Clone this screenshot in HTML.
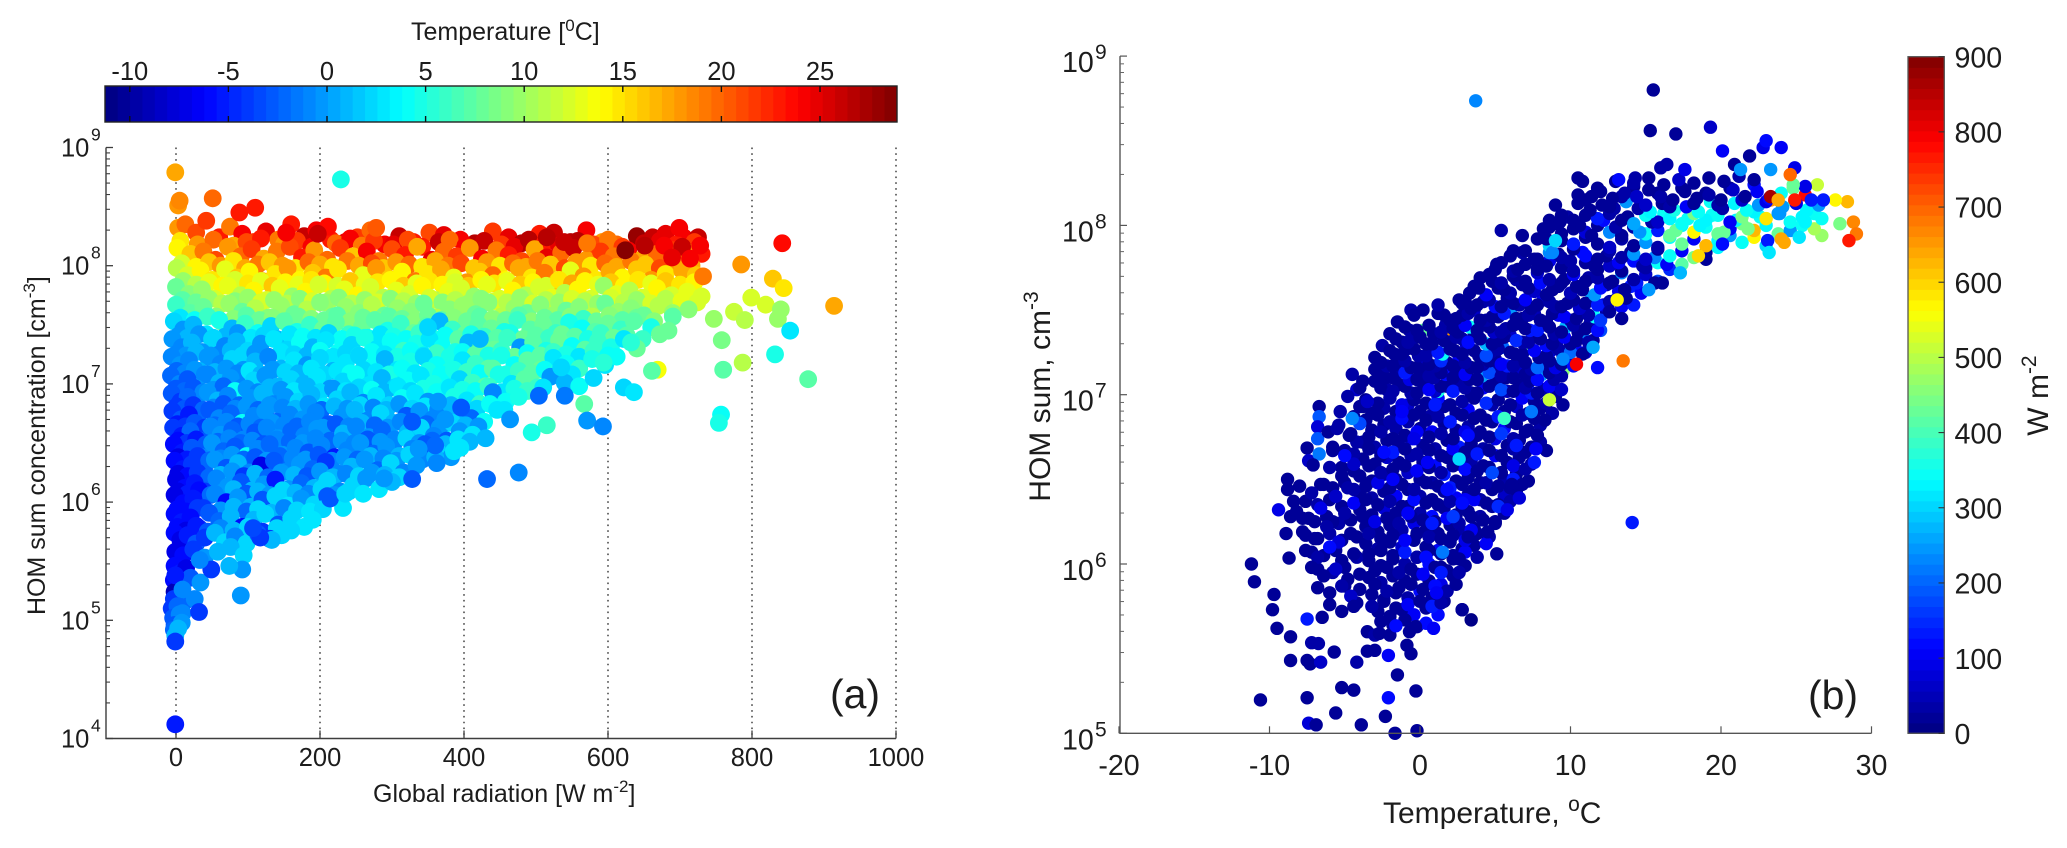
<!DOCTYPE html>
<html lang="en">
<head>
<meta charset="utf-8">
<title>HOM sum concentration vs global radiation and temperature</title>
<style>
html,body{margin:0;padding:0;background:#fff;width:2067px;height:848px;overflow:hidden}
svg{display:block}
text{font-family:"Liberation Sans",Arial,sans-serif;fill:#1c1c1c}
</style>
</head>
<body>
<svg id="figure" xmlns="http://www.w3.org/2000/svg" width="2067" height="848" viewBox="0 0 2067 848">
  <rect width="2067" height="848" fill="#fff"/>
  <g id="panelA"></g>
  <g id="panelB"></g>
  <text x="411" y="40" font-size="25">Temperature [<tspan font-size="17" dy="-9">0</tspan><tspan dy="9">C]</tspan></text>
  <text x="373" y="802" font-size="25">Global radiation [W m<tspan font-size="17" dy="-10">-2</tspan><tspan dy="10">]</tspan></text>
  <text transform="translate(45 615) rotate(-90)" font-size="25">HOM sum concentration [cm<tspan font-size="17" dy="-10">-3</tspan><tspan dy="10">]</tspan></text>
  <text x="855" y="708" font-size="41" text-anchor="middle">(a)</text>
  <text x="1383" y="823" font-size="30">Temperature, <tspan font-size="21" dy="-12">o</tspan><tspan dy="12">C</tspan></text>
  <text transform="translate(1050 501.7) rotate(-90)" font-size="30">HOM sum, cm<tspan font-size="21" dy="-12">-3</tspan></text>
  <text transform="translate(2048 435.7) rotate(-90)" font-size="30">W m<tspan font-size="21" dy="-12">-2</tspan></text>
  <text x="1833" y="709" font-size="41" text-anchor="middle">(b)</text>
</svg>
<script>
// ---------- Panel (a): tick labels ----------
const radiationTicksA = [0,200,400,600,800,1000];
const logHomTicksA = [4,5,6,7,8,9];
const temperatureTicksA = [-10,-5,0,5,10,15,20,25];
// ---------- Panel (a): bands of points: radiation, log10(HOM), temperature ----------
const radA01=[3,13,28,42,60,75,92,108,125,142,160,178,195,215,235,252,270,290,310,330,352,372,395,415,440,462,480,505,525,548,570,592,612,640,662,680,705,725];
const logA01=[8.32,8.35,8.28,8.38,8.24,8.33,8.27,8.20,8.29,8.22,8.35,8.25,8.30,8.22,8.20,8.24,8.30,8.18,8.25,8.20,8.28,8.26,8.22,8.19,8.29,8.24,8.19,8.27,8.28,8.20,8.30,8.20,8.18,8.25,8.24,8.27,8.24,8.24];
const tmpA01=[18,20,21,22,23,19,24,22,25,19,23,26,24,23,25,22,20,24,26,23,21,25,24,27,22,25,27,23,26,27,24,18,20,28,26,25,24,26];
const radA23=[6,30,52,80,98,118,150,168,188,222,242,258,275,302,322,342,365,380,402,428,452,470,490,512,532,558,580,600,620,650,672,695,720];
const logA23=[8.21,8.18,8.22,8.17,8.20,8.23,8.18,8.21,8.16,8.19,8.23,8.17,8.21,8.18,8.22,8.16,8.20,8.22,8.17,8.21,8.18,8.16,8.22,8.19,8.17,8.21,8.18,8.22,8.16,8.19,8.21,8.18,8.20];
const tmpA23=[15,18,20,17,21,23,18,22,24,20,24,19,22,25,21,23,26,20,24,26,22,25,27,23,25,27,21,19,22,26,25,23,22];
const radA02=[2,20,38,55,72,90,105,122,140,158,175,192,210,228,246,265,282,300,318,335,355,372,390,408,425,445,462,480,498,515,535,552,570,590,608,628,648,668,690,712,730];
const logA02=[8.15,8.10,8.12,8.05,8.16,8.08,8.14,8.06,8.12,8.16,8.07,8.13,8.05,8.15,8.08,8.12,8.04,8.14,8.09,8.16,8.05,8.12,8.08,8.15,8.06,8.13,8.09,8.04,8.14,8.07,8.11,8.15,8.05,8.12,8.08,8.13,8.06,8.10,8.13,8.11,8.10];
const tmpA02=[14,16,19,21,18,20,22,17,19,21,23,18,20,22,16,24,19,21,23,17,25,20,22,18,24,19,23,21,17,25,20,26,18,22,19,24,17,20,22,18,23];
const radA24=[8,28,46,62,80,96,114,130,148,166,184,200,218,238,254,272,288,306,324,342,360,378,396,414,432,450,468,486,502,520,540,556,576,596,612,632,652,672,695,716];
const logA24=[8.02,7.99,8.03,8.00,8.04,7.98,8.01,8.03,8.00,7.98,8.03,8.01,7.99,8.04,8.00,8.02,7.98,8.03,8.01,7.99,8.04,8.00,8.02,7.98,8.03,8.00,8.02,7.99,8.04,8.01,7.98,8.03,8.00,8.02,7.99,8.04,8.01,7.98,8.03,8.00];
const tmpA24=[12,14,16,18,15,17,19,16,18,15,20,17,15,19,17,21,16,18,20,15,17,19,21,16,18,15,20,17,19,16,21,18,15,20,17,19,16,21,18,17];
const radA03=[1,16,34,50,68,85,102,120,138,155,172,190,208,225,243,260,278,296,314,332,350,368,386,404,422,440,458,476,494,512,530,548,566,584,602,620,640,660,680,703,722];
const logA03=[7.98,7.92,7.96,7.88,7.97,7.90,7.95,7.87,7.93,7.98,7.88,7.94,7.90,7.97,7.86,7.92,7.98,7.89,7.95,7.87,7.93,7.97,7.90,7.86,7.95,7.92,7.88,7.98,7.90,7.94,7.87,7.96,7.91,7.88,7.95,7.90,7.97,7.88,7.93,7.96,7.92];
const tmpA03=[11,12,14,15,13,16,14,17,15,18,14,16,19,15,17,13,18,16,14,19,15,17,13,18,16,20,14,17,15,19,16,13,18,15,17,14,16,18,15,17,16];
const radA25=[10,28,46,64,82,100,118,134,152,170,188,206,224,242,262,280,298,316,334,352,370,388,406,424,442,460,478,496,514,532,550,568,586,604,622,642,660,680,700,720];
const logA25=[7.87,7.84,7.86,7.83,7.88,7.85,7.87,7.83,7.86,7.84,7.88,7.85,7.83,7.87,7.84,7.86,7.88,7.83,7.85,7.87,7.84,7.86,7.83,7.88,7.85,7.87,7.84,7.86,7.83,7.88,7.85,7.87,7.84,7.86,7.83,7.88,7.85,7.87,7.84,7.86];
const tmpA25=[10,11,13,14,12,15,13,16,14,13,15,14,12,16,13,15,14,16,13,15,14,12,16,14,15,13,16,14,12,15,17,14,13,16,14,15,13,16,15,14];
const radA04=[0,18,36,54,72,90,108,126,144,162,180,198,216,234,252,270,288,306,324,342,360,378,396,414,432,450,468,486,504,522,540,558,576,594,612,630,648,668,688,710,730];
const logA04=[7.82,7.76,7.80,7.72,7.83,7.75,7.79,7.71,7.81,7.74,7.78,7.84,7.72,7.80,7.75,7.82,7.73,7.79,7.76,7.83,7.71,7.78,7.81,7.74,7.84,7.72,7.79,7.75,7.82,7.73,7.77,7.80,7.72,7.83,7.76,7.79,7.73,7.81,7.75,7.78,7.74];
const tmpA04=[8,9,10,12,13,11,14,12,13,10,14,12,11,13,14,12,11,13,12,14,11,13,12,10,13,12,14,11,12,13,11,14,12,10,13,11,12,14,12,13,12];
const radA26=[9,28,46,64,82,100,118,136,154,172,190,208,226,244,262,280,298,316,334,352,370,388,406,424,442,460,478,496,514,532,550,568,586,604,622,640,660,680,702,724];
const logA26=[7.71,7.69,7.72,7.68,7.70,7.73,7.69,7.71,7.68,7.72,7.70,7.69,7.73,7.68,7.71,7.69,7.72,7.70,7.68,7.73,7.69,7.71,7.68,7.72,7.70,7.69,7.73,7.68,7.71,7.69,7.72,7.70,7.68,7.73,7.69,7.71,7.68,7.72,7.70,7.69];
const tmpA26=[7,8,10,11,9,10,12,10,11,9,12,10,9,11,10,12,9,11,10,12,9,11,10,9,12,11,10,12,11,10,12,11,10,12,11,10,12,11,13,12];
const radA05=[0,20,38,56,74,92,110,128,146,164,182,200,218,236,254,272,290,308,326,344,362,380,398,416,434,452,470,488,506,524,542,560,578,596,614,632,650,670,690,712];
const logA05=[7.67,7.60,7.65,7.57,7.68,7.61,7.64,7.56,7.66,7.59,7.63,7.69,7.57,7.65,7.60,7.67,7.58,7.64,7.61,7.68,7.56,7.63,7.66,7.59,7.69,7.57,7.64,7.60,7.67,7.58,7.62,7.65,7.57,7.68,7.61,7.64,7.58,7.66,7.60,7.63];
const tmpA05=[6,7,8,9,10,8,11,9,10,8,11,9,8,10,9,11,8,10,9,8,11,9,10,8,9,11,10,8,9,10,8,9,11,8,10,9,8,11,10,9];
const radA27=[6,26,44,62,80,98,116,134,152,170,188,206,224,242,260,278,296,314,332,350,368,386,404,422,440,458,476,494,512,530,548,566,584,602,620,640,664,690];
const logA27=[7.56,7.54,7.57,7.53,7.55,7.58,7.54,7.56,7.53,7.57,7.55,7.54,7.58,7.53,7.56,7.54,7.57,7.55,7.53,7.58,7.54,7.56,7.53,7.57,7.55,7.54,7.58,7.53,7.56,7.54,7.57,7.55,7.53,7.58,7.54,7.56,7.53,7.57];
const tmpA27=[3,4,6,7,9,7,8,9,7,8,9,8,7,9,8,9,7,8,9,8,7,9,8,7,9,8,7,9,8,7,9,6,8,9,7,8,9,7];
const radA06=[-3,10,24,42,60,78,96,114,132,150,168,186,204,222,240,258,276,294,312,330,348,366,384,402,420,438,456,474,492,510,528,546,564,582,600,618,636,660,684];
const logA06=[7.53,7.46,7.50,7.42,7.54,7.47,7.51,7.43,7.49,7.53,7.44,7.50,7.46,7.52,7.42,7.48,7.54,7.45,7.51,7.43,7.49,7.53,7.46,7.42,7.50,7.47,7.44,7.54,7.46,7.50,7.43,7.52,7.47,7.44,7.51,7.46,7.53,7.48,7.45];
const tmpA06=[2,0,1,3,5,1,6,4,2,7,5,6,8,7,6,8,7,5,6,8,7,1,6,8,7,8,5,6,7,8,6,5,4,7,8,6,7,5,8];
const radA28=[4,16,32,50,68,86,104,122,140,158,176,194,212,230,248,266,284,302,320,338,356,374,392,410,428,446,464,482,500,518,536,554,572,590,608,626,648,672];
const logA28=[7.41,7.39,7.42,7.38,7.40,7.43,7.39,7.41,7.38,7.42,7.40,7.39,7.43,7.38,7.41,7.39,7.42,7.40,7.38,7.43,7.39,7.41,7.38,7.42,7.40,7.39,7.43,7.38,7.41,7.39,7.42,7.40,7.38,7.43,7.39,7.41,7.38,7.42];
const tmpA28=[0,1,0,2,1,0,3,2,1,3,4,3,2,4,5,4,3,5,4,6,5,4,7,5,6,7,5,8,7,6,8,7,5,6,8,7,6,8];
const radA07=[-5,8,22,36,52,68,84,100,118,136,154,172,190,208,226,244,262,280,298,316,334,352,370,388,406,424,442,460,478,496,514,532,550,568,586,604,622,640];
const logA07=[7.38,7.31,7.35,7.27,7.39,7.32,7.36,7.28,7.34,7.38,7.29,7.35,7.31,7.37,7.27,7.33,7.39,7.30,7.36,7.28,7.34,7.38,7.31,7.27,7.35,7.32,7.29,7.39,7.31,7.35,7.28,7.37,7.32,7.29,7.36,7.31,7.38,7.30];
const tmpA07=[0,-1,1,0,2,-1,1,2,0,3,2,4,1,3,4,2,5,3,4,6,5,3,4,5,1,7,8,6,0,7,5,8,4,7,6,5,3,8];
const radA29=[2,14,28,44,60,76,92,110,128,146,164,182,200,218,236,254,272,290,308,326,344,362,380,398,416,434,452,470,488,506,524,542,560,580,600];
const logA29=[7.26,7.24,7.27,7.23,7.25,7.28,7.24,7.26,7.23,7.27,7.25,7.24,7.28,7.23,7.26,7.24,7.27,7.25,7.23,7.28,7.24,7.26,7.23,7.27,7.25,7.24,7.28,7.23,7.26,7.24,7.27,7.25,7.23,7.28,7.24];
const tmpA29=[-1,0,1,0,-1,1,2,0,1,3,2,1,4,3,2,5,4,3,5,4,3,6,5,4,7,5,6,8,4,7,6,5,3,6,4];
const radA08=[-6,6,18,32,48,62,78,94,110,128,146,164,182,200,218,236,254,272,290,308,326,344,362,380,398,416,434,452,470,488,506,524,542,560,578,596,612];
const logA08=[7.23,7.16,7.20,7.11,7.24,7.17,7.21,7.12,7.19,7.23,7.13,7.20,7.16,7.22,7.11,7.18,7.24,7.14,7.21,7.12,7.19,7.23,7.16,7.11,7.20,7.17,7.13,7.24,7.16,7.20,7.12,7.22,7.17,7.13,7.21,7.16,7.23];
const tmpA08=[-1,0,-1,1,0,-1,2,0,1,-1,1,3,0,2,1,3,2,4,1,3,5,2,4,5,3,6,7,5,4,7,8,3,4,6,5,3,4];
const radA30=[1,12,26,40,54,70,86,102,118,134,152,170,188,206,224,242,260,278,296,314,332,350,368,386,404,422,440,458,476,494,512,530,550];
const logA30=[7.11,7.09,7.12,7.08,7.10,7.13,7.09,7.11,7.08,7.12,7.10,7.09,7.13,7.08,7.11,7.09,7.12,7.10,7.08,7.13,7.09,7.11,7.08,7.12,7.10,7.09,7.13,7.08,7.11,7.09,7.12,7.10,7.08];
const tmpA30=[-2,-1,0,-1,1,0,-1,3,1,0,2,1,3,2,3,4,2,3,5,4,3,5,4,5,6,4,7,5,6,7,4,5,3];
const radA09=[-7,5,16,30,44,60,76,92,108,124,142,160,178,196,214,232,250,268,286,304,322,340,358,376,394,412,430,448,466,484,502,520,540,560,580];
const logA09=[7.07,7.00,7.04,6.96,7.08,7.01,7.05,6.97,7.03,7.07,6.98,7.04,7.00,7.06,6.96,7.02,7.08,6.99,7.05,6.97,7.03,7.07,7.00,6.96,7.04,7.01,6.98,7.08,7.00,7.04,6.97,7.06,7.01,6.98,7.05];
const tmpA09=[-2,-1,-3,0,-1,1,0,-1,2,0,1,2,1,3,0,2,4,3,1,2,4,3,5,4,2,6,7,5,3,7,6,0,1,4,2];
const radA31=[0,12,24,38,52,66,82,98,114,130,146,164,182,200,218,236,254,272,290,308,326,344,362,380,398,416,434,452,470,488,510];
const logA31=[6.96,6.94,6.97,6.93,6.95,6.98,6.94,6.96,6.93,6.97,6.95,6.94,6.98,6.93,6.96,6.94,6.97,6.95,6.93,6.98,6.94,6.96,6.93,6.97,6.95,6.94,6.98,6.93,6.96,6.94,6.97];
const tmpA31=[-3,-2,-3,-1,0,-2,4,0,-1,1,0,3,1,2,0,3,2,4,1,3,2,5,4,3,5,4,6,3,5,6,3];
const radA10=[-6,6,16,30,44,58,72,88,104,120,136,152,170,188,206,224,242,260,278,296,314,332,350,368,386,404,422,440,458,476];
const logA10=[6.92,6.85,6.89,6.81,6.93,6.86,6.90,6.82,6.88,6.92,6.83,6.89,6.85,6.91,6.81,6.87,6.93,6.84,6.90,6.82,6.88,6.92,6.85,6.81,6.89,6.86,6.83,6.93,6.85,6.89];
const tmpA10=[-3,-4,-2,-1,0,1,-1,-2,0,1,-1,0,2,1,3,2,1,-1,3,2,4,3,0,4,5,3,6,-1,4,5];
const radA32=[1,12,24,38,52,66,82,98,114,130,148,166,184,202,220,238,256,274,292,310,328,346,364,382,400,418,436,456];
const logA32=[6.81,6.79,6.82,6.78,6.80,6.83,6.79,6.81,6.78,6.82,6.80,6.79,6.83,6.78,6.81,6.79,6.82,6.80,6.78,6.83,6.79,6.81,6.78,6.82,6.80,6.79,6.83,6.78];
const tmpA32=[-4,-3,-4,-2,-1,-3,-1,0,-2,0,-1,1,0,-2,1,0,2,-1,1,0,2,3,-1,1,3,2,4,3];
const radA11=[-5,7,18,32,46,60,76,92,108,124,140,158,176,194,212,230,248,266,284,302,320,338,356,374,392,410,428,446,464];
const logA11=[6.77,6.70,6.74,6.66,6.78,6.71,6.75,6.67,6.73,6.77,6.68,6.74,6.70,6.76,6.66,6.72,6.78,6.69,6.75,6.67,6.73,6.77,6.70,6.66,6.74,6.71,6.68,6.78,6.70];
const tmpA11=[-4,-3,-5,-2,-3,-1,-2,4,-1,0,-2,-1,0,-1,-3,0,1,-1,2,1,-3,0,-1,3,1,-2,4,3,0];
const radA33=[2,13,26,40,54,70,86,102,118,134,150,168,186,204,222,240,258,276,294,312,330,348,366,384,402,420];
const logA33=[6.66,6.64,6.67,6.63,6.65,6.68,6.64,6.66,6.63,6.67,6.65,6.64,6.68,6.63,6.66,6.64,6.67,6.65,6.63,6.68,6.64,6.66,6.63,6.67,6.65,6.64];
const tmpA33=[-5,-4,-3,-4,-2,-1,-3,-1,-2,0,-1,-2,-1,0,-3,-1,1,-2,0,-1,1,-2,0,2,1,0];
const radA12=[-4,8,20,34,48,62,78,94,110,126,142,160,178,196,214,232,250,268,286,304,322,340,358,376,394,412,430];
const logA12=[6.63,6.56,6.60,6.52,6.64,6.57,6.61,6.53,6.59,6.63,6.54,6.60,6.56,6.62,6.52,6.58,6.64,6.55,6.61,6.53,6.59,6.63,6.56,6.52,6.60,6.57,6.54];
const tmpA12=[-4,-5,-2,-3,-1,0,-2,-1,-3,-1,0,-2,-1,0,-2,1,-1,0,-2,-1,1,2,-1,-3,0,3,1];
const radA34=[3,15,28,42,58,74,90,106,122,140,158,176,194,212,230,248,266,284,302,320,338,356,374,392,408];
const logA34=[6.52,6.50,6.53,6.49,6.51,6.54,6.50,6.52,6.49,6.53,6.51,6.50,6.54,6.49,6.52,6.50,6.53,6.51,6.49,6.54,6.50,6.52,6.49,6.53,6.51];
const tmpA34=[-6,-4,-5,-3,-2,-1,-2,-1,-3,-1,-2,0,-1,-2,0,-1,-3,0,-1,2,0,-2,1,3,1];
const radA13=[-3,9,22,36,50,66,82,98,114,130,148,166,184,202,220,238,256,274,292,310,328,346,364,382,395];
const logA13=[6.49,6.42,6.46,6.38,6.50,6.43,6.47,6.39,6.45,6.49,6.40,6.46,6.42,6.48,6.38,6.44,6.50,6.41,6.47,6.39,6.45,6.49,6.42,6.38,6.46];
const tmpA13=[-6,-5,-3,-1,0,-2,-3,4,-1,-2,0,-1,-3,-1,-5,-1,0,-2,0,1,-1,-3,2,0,3];
const radA35=[3,15,30,46,62,78,94,110,126,144,162,180,198,216,234,252,270,288,306,324,342,360];
const logA35=[6.38,6.36,6.39,6.35,6.37,6.40,6.36,6.38,6.35,6.39,6.37,6.36,6.40,6.35,6.38,6.36,6.39,6.37,6.35,6.40,6.36,6.38];
const tmpA35=[-7,-5,-4,-2,-1,0,-2,-3,0,-2,-1,0,-3,-1,0,-2,1,-1,0,2,-1,1];
const radA14=[-2,10,22,38,54,70,86,102,118,136,154,172,190,208,226,244,262,280,298,316,334];
const logA14=[6.35,6.28,6.32,6.24,6.36,6.29,6.33,6.25,6.31,6.35,6.26,6.32,6.28,6.34,6.24,6.30,6.36,6.27,6.33,6.25,6.31];
const tmpA14=[-6,-5,-4,-2,0,-3,1,-1,-7,-3,-1,0,-2,-4,-1,1,0,-2,2,-1,0];
const radA36=[3,16,30,46,62,78,94,110,128,146,164,182,200,218,236,254,272,290,310];
const logA36=[6.24,6.22,6.25,6.21,6.23,6.26,6.22,6.24,6.21,6.25,6.23,6.22,6.26,6.21,6.24,6.22,6.25,6.23,6.21];
const tmpA36=[-7,-6,-4,-2,1,0,-4,1,-2,0,1,-3,0,1,-1,2,0,1,2];
const radA15=[0,12,26,40,56,72,90,106,122,138,156,174,192,210,228,246,264,282,300];
const logA15=[6.19,6.12,6.16,6.09,6.20,6.13,6.17,6.10,6.15,6.19,6.11,6.16,6.12,6.18,6.09,6.14,6.20,6.11,6.17];
const tmpA15=[-7,-6,-5,-4,-1,0,-3,1,0,-5,0,-2,1,2,-1,2,0,3,1];
const radA37=[3,16,32,48,64,80,98,114,130,148,166,184,202,220,240,260];
const logA37=[6.09,6.07,6.10,6.06,6.08,6.11,6.07,6.09,6.06,6.10,6.08,6.07,6.11,6.06,6.09,6.07];
const tmpA37=[-7,-5,-6,-2,0,1,-3,1,0,2,1,-1,2,0,2,3];
const radA16=[-2,10,24,38,54,70,86,104,120,138,156,174,192,210,232];
const logA16=[6.06,5.99,6.03,5.95,6.07,6.00,6.04,5.96,6.02,6.05,5.97,6.03,5.98,6.05,5.95];
const tmpA16=[-7,-6,-5,-4,-1,-6,0,1,-3,2,3,0,2,-3,3];
const radA38=[2,14,30,46,62,80,98,114,132,150,168,186,204];
const logA38=[5.94,5.92,5.95,5.91,5.93,5.96,5.92,5.94,5.91,5.95,5.93,5.92,5.94];
const tmpA38=[-6,-6,-4,-3,0,1,-2,2,1,-1,2,3,2];
const radA17=[-2,8,20,32,46,60,76,92,108,124,142,160,178];
const logA17=[5.90,5.83,5.87,5.78,5.91,5.84,5.88,5.79,5.85,5.90,5.81,5.86,5.79];
const tmpA17=[-6,-5,-6,-4,-3,-2,1,-6,1,2,-3,2,3];
const radA39=[2,14,28,44,62,80,100,120,140,160];
const logA39=[5.79,5.76,5.80,5.75,5.78,5.76,5.79,5.75,5.78,5.76];
const tmpA39=[-6,-7,-5,-3,-1,1,2,-4,2,2];
const radA18=[-2,6,16,28,40,54,68,82,98,114,130,146,-1,10,24,40,58,76,94];
const logA18=[5.74,5.68,5.72,5.65,5.70,5.74,5.66,5.71,5.65,5.73,5.69,5.72,5.58,5.55,5.60,5.53,5.58,5.62,5.55];
const tmpA18=[-6,-7,-5,-3,-4,1,2,-1,2,-3,-4,2,-7,-6,-4,0,1,1,2];
const radA19=[-2,6,14,-3,8,20,34,-2,10,0,12,26,-1,-3,9];
const logA19=[5.46,5.40,5.44,5.34,5.30,5.36,5.32,5.24,5.20,5.14,5.16,5.18,5.38,5.18,5.26];
const tmpA19=[-6,-5,-7,-6,-2,-3,0,-9,-6,-9,-2,-1,-5,-4,-1];
const radA20=[-6,2,9,-4,5,-2,8,-3,3,-1];
const logA20=[5.10,5.12,5.06,5.02,5.05,4.96,4.98,4.92,4.93,4.87];
const tmpA20=[-4,-2,-1,-3,-1,-3,0,-2,1,1];
const radA21=[-1,3,5,51,88,110,229,211,197,278,153,699,515,539,571,624,651,678,703,728,689,714,732,785,842,829,844,799,819,840,775,790,836,914,853,832,878,758,747,787,760,757,754,622,636,504,540,567,571,593,515,494,669,661,594,535,632];
const logA21=[8.79,8.51,8.55,8.57,8.45,8.49,8.73,8.33,8.27,8.32,8.28,8.32,8.24,8.20,8.19,8.13,8.17,8.17,8.16,8.17,8.07,8.06,7.91,8.01,8.19,7.89,7.81,7.73,7.67,7.63,7.61,7.54,7.55,7.66,7.45,7.25,7.04,7.37,7.55,7.18,7.12,6.74,6.67,6.97,6.93,6.90,6.90,6.83,6.69,6.64,6.65,6.59,7.12,7.11,7.18,7.14,7.35];
const tmpA21=[17.5,18,18.5,20,23,23,4.5,23.5,26,20.5,24,24,26.5,26,19,28.8,26.5,24,26,24.5,25,24,19,18,23.5,16,14.5,12.5,12,10,11.5,11,10,17.5,3,4.5,7,8.5,9.5,11,7,4,4.5,2.5,3,-2,-1.5,7,0,-1,6,4.5,13.5,7,5.5,2,5.5];
const radA22=[432,476,328,289,362,386,360,337,328,374,396,364,422,350,190,214,235,147,133,117,107,92,74,49,33,90,32,-1,-1];
const logA22=[6.195,6.25,6.195,6.2,6.33,6.43,6.48,6.45,6.68,6.7,6.8,6.85,7.38,7.48,5.85,6.03,6.07,5.72,5.68,5.7,5.78,5.43,5.46,5.43,5.51,5.21,5.07,4.82,4.12];
const tmpA22=[-2,-1,-3,0,-1,3,-2,0,-3,0,-2.5,-0.5,1,2,3,-3,2,2.5,1,-4,-3.5,0,1,-4,-1,0,-4,-4,-5];

// ---------- Panel (b): tick labels ----------
const temperatureTicksB = [-20,-10,0,10,20,30];
const logHomTicksB = [5,6,7,8,9];
const radiationTicksB = [0,100,200,300,400,500,600,700,800,900];
// ---------- Panel (b): bands of points: temperature, log10(HOM), radiation ----------
const tmpB01=[-3.5,-3,-2.7,-2,-1.6,-.7,-.3,2.8,3.4,-5.7,-3.5,-3,-2.1,-.6,-.87,-7.2,-6.75,-8.6,-9.5,-9.8,-7.5,-6.5];
const logB01=[5.6,5.58,5.59,5.58,5.635,5.6,5.63,5.73,5.67,5.48,5.485,5.49,5.46,5.47,5.52,5.535,5.53,5.57,5.62,5.73,5.675,5.685];
const radB01=[20,30,15,20,120,25,20,15,10,20,20,25,110,15,20,30,40,20,15,20,130,20];
const tmpB02=[-10.6,-7.5,-5.2,-4.4,-2.1,-.27,-1.5,-5.6,-7.4,-6.9,-3.9,-2.3,-1.66,-.2,-8.6,-7.5,-7.3,-6.6,-4.2];
const logB02=[5.197,5.21,5.27,5.255,5.21,5.25,5.345,5.12,5.06,5.05,5.05,5.1,5,5.015,5.43,5.43,5.41,5.42,5.42];
const radB02=[20,25,15,20,120,15,20,15,80,20,15,20,25,20,15,20,15,60,40];
const tmpB03=[-11.2,-11,-9.7,-8.7,-8.9,-9.4,-8.8,-8.8,-8.6,-8.4,-6.7,-6.7,-6.8,-6.8,-5.4,-6.1,-7.5,-7.4,-6.7,-7.1,-5.8,-4.2];
const logB03=[6,5.895,5.82,6.035,6.18,6.32,6.5,6.44,6.28,6.37,6.93,6.87,6.81,6.74,6.82,6.78,6.685,6.61,6.65,6.585,6.67,7.03];
const radB03=[20,20,25,15,20,90,20,25,15,20,25,190,80,190,40,20,20,70,220,20,25,60];
const tmpB04=[-8,-7.2,-6.4,-5.6,-4.8,-8.2,-7.4,-6.6,-5.8,-5,-7.8,-7,-6.2,-5.4,-4.6,-7.6,-6.8,-6,-5.2,-4.4,-7.2,-6.4,-5.6,-4.8,-6.8,-6,-5.2,-4.6,-6,-5.2,-4.4];
const logB04=[6.46,6.42,6.47,6.40,6.45,6.31,6.27,6.33,6.25,6.30,6.19,6.15,6.22,6.13,6.18,6.08,6.04,6.10,6.02,6.06,5.98,5.93,5.97,5.91,5.86,5.83,5.87,5.81,5.76,5.72,5.75];
const radB04=[20,30,15,60,40,15,25,90,20,35,20,15,30,80,20,15,30,120,25,15,20,25,60,20,15,20,30,70,15,25,20];
const tmpB05=[-6,-5.2,-4.4,-5.8,-5,-4.2,-5.5,-4.7,-4,-5.3,-4.5,-3.8,-4.8,-4,-3.5,-4.5,-3.8];
const logB05=[6.57,6.52,6.59,6.69,6.64,6.72,6.80,6.76,6.83,6.90,6.86,6.93,6.99,7.04,6.96,7.12,7.08];
const radB05=[30,20,60,25,120,30,40,20,180,30,230,20,40,25,60,30,20];
const tmpB06=[-3,-2.2,-1.4,-.6,.2,1,1.8,2.6,3.4,4.2,5,5.8,6.6,7.4,8.2,9];
const logB06=[7.08,7.03,7.06,7.01,7.07,7.02,7.05,7.08,7.01,7.04,7.07,7.02,7.06,7.01,7.03,6.99];
const radB06=[20,35,15,30,25,70,20,40,15,110,25,50,20,130,30,20];
const tmpB07=[-3,-2.3,-1.5,-.7,.1,.9,1.7,2.5,3.3,4.1,4.9,5.7,6.5,7.3,8.1,8.9,9.5];
const logB07=[7.15,7.10,7.13,7.09,7.14,7.10,7.12,7.15,7.09,7.11,7.14,7.10,7.13,7.08,7.12,7.09,7.14];
const radB07=[25,15,30,90,20,40,120,25,15,260,35,20,60,20,240,30,450];
const tmpB08=[-3,-2.2,-1.4,-.6,.2,1,1.8,2.6,3.4,4.2,5,5.8,6.6,7.4,8.2,9,9.8];
const logB08=[7.22,7.17,7.20,7.16,7.21,7.17,7.19,7.22,7.16,7.18,7.21,7.17,7.20,7.15,7.19,7.16,7.21];
const radB08=[15,30,25,20,60,30,20,100,25,40,20,130,15,30,20,90,40];
const tmpB09=[-2.5,-1.7,-.9,-.1,.7,1.5,2.3,3.1,3.9,4.7,5.5,6.3,7.1,7.9,8.7,9.5,10.3,11];
const logB09=[7.29,7.24,7.27,7.23,7.28,7.24,7.26,7.29,7.23,7.25,7.28,7.24,7.27,7.22,7.26,7.23,7.28,7.25];
const radB09=[30,20,15,40,20,350,25,60,20,30,200,25,440,20,70,20,110,60];
const tmpB10=[-2,-1.2,-.4,.4,1.2,2,2.8,3.6,4.4,5.2,6,6.8,7.6,8.4,9.2,10,10.8,11.5];
const logB10=[7.36,7.31,7.34,7.30,7.35,7.31,7.33,7.36,7.30,7.32,7.35,7.31,7.34,7.29,7.33,7.30,7.35,7.32];
const radB10=[20,25,30,15,90,20,40,25,280,20,60,30,20,120,35,20,230,20];
const tmpB11=[-1.5,-.7,.9,1.7,2.5,3.3,4.1,4.9,5.7,6.5,7.3,8.1,8.9,9.7,10.5,11.3,12];
const logB11=[7.43,7.38,7.36,7.41,7.37,7.40,7.43,7.37,7.39,7.42,7.38,7.41,7.36,7.40,7.37,7.42,7.38];
const radB11=[20,30,20,40,25,340,20,60,30,20,130,20,40,270,25,30,180];
const tmpB12=[-.6,1.2,2,2.8,3.6,4.4,5.2,6,6.8,7.6,8.4,9.2,10,10.8,11.6,12.4];
const logB12=[7.50,7.48,7.44,7.47,7.50,7.44,7.46,7.49,7.45,7.48,7.43,7.47,7.44,7.49,7.46,7.49];
const radB12=[30,20,15,25,60,30,20,240,20,45,20,100,30,20,340,30];
const tmpB13=[2.6,3.4,4.2,5,5.8,6.6,7.4,8.2,9,9.8,10.6,11.4,12.2,13];
const logB13=[7.56,7.51,7.55,7.52,7.57,7.53,7.51,7.56,7.52,7.54,7.51,7.57,7.53,7.56];
const radB13=[25,15,30,120,20,40,20,90,30,20,60,260,80,30];
const tmpB14=[3.6,4.4,5.2,6,6.8,7.6,8.4,9.2,10,10.8,11.6,12.4,13.2,14,14.7];
const logB14=[7.64,7.59,7.63,7.60,7.65,7.61,7.59,7.64,7.60,7.62,7.59,7.65,7.61,7.64,7.60];
const radB14=[20,100,15,30,20,60,25,15,50,20,240,30,90,130,110];
const tmpB15=[4.6,5.4,6.2,7,7.8,8.6,9.4,10.2,11,11.8,12.6,13.4,14.2,15,15.8];
const logB15=[7.71,7.66,7.70,7.67,7.72,7.68,7.66,7.71,7.67,7.69,7.66,7.72,7.68,7.71,7.67];
const radB15=[25,40,20,15,60,30,20,100,15,40,20,230,30,60,180];
const tmpB16=[5.4,6.2,7,7.8,8.6,9.4,10.2,11,11.8,12.6,13.4,14.2,15,15.8,16.6,17.4];
const logB16=[7.78,7.73,7.77,7.74,7.79,7.75,7.73,7.78,7.74,7.76,7.73,7.79,7.75,7.78,7.74,7.77];
const radB16=[20,30,15,25,90,20,35,15,25,60,20,120,30,340,150,420];
const tmpB17=[7,7.8,8.6,9.4,10.2,11,11.8,12.6,13.4,14.2,15,15.8,16.6,17.4,18.2,19,19.8];
const logB17=[7.85,7.80,7.84,7.81,7.86,7.82,7.80,7.85,7.81,7.83,7.80,7.86,7.82,7.85,7.81,7.84,7.87];
const radB17=[25,15,230,30,20,120,20,30,40,240,60,20,340,110,440,20,330];
const tmpB18=[7.8,8.6,9.4,10.2,11,11.8,12.6,13.4,14.2,15,15.8,16.6,17.4,18.2,19,19.8,20.6,21.4,22.2,23,24.2];
const logB18=[7.92,7.88,7.91,7.89,7.93,7.89,7.87,7.92,7.88,7.90,7.87,7.93,7.89,7.92,7.88,7.91,7.94,7.90,7.93,7.88,7.90];
const radB18=[20,300,15,130,25,20,60,30,20,240,30,350,430,100,620,330,240,350,570,300,640];
const tmpB19=[8.6,9.4,10.2,11,11.8,12.6,13.4,14.2,15,15.8,16.6,17.4,18.2,19,19.8,20.6,21.4,22.2,23,23.8,24.6,25.4];
const logB19=[7.99,7.95,7.98,7.96,8.00,7.96,7.94,7.99,7.95,7.97,7.94,8.00,7.96,7.99,7.95,7.98,8.01,7.97,8.00,7.95,7.97,8.00];
const radB19=[25,20,15,80,20,230,15,40,340,130,430,330,570,350,430,100,440,620,330,430,240,350];
const tmpB20=[9.4,10.2,11,11.8,12.6,13.4,14.2,15,15.8,16.6,17.4,18.2,19,19.8,20.6,21.4,22.2,23,23.8,24.6,25.4,26.2];
const logB20=[8.06,8.03,8.06,8.04,8.07,8.03,8.01,8.06,8.02,8.04,8.01,8.07,8.03,8.06,8.02,8.05,8.08,8.04,8.07,8.02,8.05,8.07];
const radB20=[20,15,25,130,30,20,260,340,60,330,350,440,330,350,100,440,330,580,240,340,330,350];
const tmpB21=[10.5,11.3,12.1,12.9,13.7,14.5,15.3,16.1,16.9,17.7,18.5,19.3,20.1,20.9,21.7,22.5,23.3,24.1,24.9,25.7,26.5];
const logB21=[8.13,8.09,8.12,8.10,8.14,8.10,8.08,8.13,8.09,8.11,8.08,8.14,8.10,8.13,8.09,8.12,8.15,8.11,8.14,8.09,8.12];
const radB21=[20,25,15,30,240,40,330,20,360,100,340,350,30,330,340,240,650,240,380,330,240];
const tmpB22=[12,12.8,13.6,14.4,15.2,16,16.8,17.6,18.4,19.2,20,20.8,21.6,22.4,23.2,24,24.8,25.6];
const logB22=[8.20,8.16,8.19,8.17,8.21,8.17,8.15,8.20,8.16,8.18,8.15,8.21,8.17,8.20,8.16,8.19,8.22,8.18];
const radB22=[20,15,30,60,20,40,25,20,15,30,25,60,20,100,120,340,430,780];
const tmpB23=[13,14.2,15.2,16.2,17.2,18.2,19.2,20.2,21.2,22.2];
const logB23=[8.26,8.25,8.28,8.24,8.27,8.25,8.28,8.26,8.29,8.27];
const radB23=[20,30,25,15,60,20,25,15,30,20];
const tmpB24=[5.4,6.8,6.2,5.1,5,6.5,3.9,3.3,2.8,1.2,-.4,.2,10.5,10.8,10.5,11.4,9,8.6,9.3,8.4,8.8,9,13.2,14.3,16,16.4,17.6,20.1,21.9,22.8,23,24,20.9,21.3,23.3,24.9];
const logB24=[7.97,7.94,7.85,7.77,7.74,7.74,7.63,7.6,7.54,7.53,7.47,7.5,8.28,8.26,8.18,8.17,8.12,8.03,8.02,7.92,7.84,7.91,8.27,8.28,8.34,8.36,8.33,8.44,8.41,8.46,8.5,8.46,8.36,8.33,8.33,8.34];
const radB24=[40,20,20,20,20,20,20,20,20,30,20,20,20,20,20,20,20,20,20,20,230,300,120,30,40,30,90,100,20,90,120,100,20,240,240,90];
const tmpB25=[28.4,27.6,26.4,28.8,29,28.5,27.9,26.7,26.2,25.2,24,23.1,23.2,25.6,25,26.8,26,24.8,23.3,24.9,23.8,25.6,26.7,23.9,24.6];
const logB25=[8.14,8.15,8.24,8.02,7.95,7.91,8.01,7.94,7.98,7.93,7.92,7.91,7.84,8.23,8.13,8.15,8.15,8.24,8.17,8.15,8.15,8.02,8.04,8.07,8.3];
const radB25=[620,570,520,670,680,760,440,470,480,310,640,130,320,90,90,130,130,430,860,760,640,330,340,240,700];
const tmpB26=[20.1,19,18.5,17.3,16.1,15.6,15.2,14.2,13.7,13.1,12.6,13.4,13.5,11.8,10.4,11.5,9.5,8.6,9.5,7.4,8.4,7.7,6.8,6.1,6.6,5.8,4.5,3.2,5.1,2.6,14.1,1.5,1.1,2.8,3.7,15.5,15.3,17,19.3];
const logB26=[7.89,7.8,7.82,7.72,7.66,7.66,7.62,7.53,7.57,7.56,7.49,7.45,7.2,7.16,7.18,7.28,7.21,6.97,6.94,6.9,6.67,6.68,6.47,6.47,6.39,6.32,6.19,6.16,6.06,6.03,6.245,6.07,5.83,5.73,8.736,8.8,8.56,8.54,8.58];
const radB26=[120,20,600,270,20,20,250,130,20,570,20,20,680,120,800,260,230,520,20,220,20,100,20,20,80,90,20,20,20,20,130,220,100,20,230,20,20,20,70];
const tmpB27=[2.5,2.1,.2,1.2,4,7.4,5.6,1,3.2,6.4,.5,2.6,4.8,-1.2,-2.4,1.8,3,5.2,-.4,.8,6.2,7.6,2.2,4.4,.4,3.4,-1.8,1.4,2.8,-.8];
const logB27=[7.45,7.38,7.38,7.02,7.18,7.12,6.86,6.94,6.76,6.7,6.6,6.62,6.54,6.9,6.66,6.44,6.38,6.34,6.74,6.24,6.5,6.6,6.28,6.12,6.04,6.2,6.5,5.95,6.36,6.3];
const radB27=[860,650,430,360,440,430,380,130,120,140,110,300,180,100,120,120,110,150,90,130,130,140,160,110,120,100,110,130,120,100];
const tmpB28=[-4,-3.2,-2.4,-1.6,-.8,0,.8,1.6,2.4,3.2,4,4.8,5.6,6.4,7.2,8,8.8];
const logB28=[6.93,6.89,6.92,6.90,6.94,6.90,6.88,6.93,6.89,6.91,6.88,6.94,6.90,6.93,6.89,6.92,6.89];
const radB28=[20,15,30,25,60,20,35,15,25,100,20,30,15,60,25,20,30];
const tmpB29=[-4,-3.2,-2.4,-1.6,-.8,0,.8,1.6,2.4,3.2,4,4.8,5.6,6.4,7.2,8];
const logB29=[6.83,6.79,6.82,6.80,6.84,6.80,6.78,6.83,6.79,6.81,6.78,6.84,6.80,6.83,6.79,6.82];
const radB29=[25,20,15,40,30,15,110,20,25,40,15,20,120,25,20,35];
const tmpB30=[-3.8,-3,-2.2,-1.4,-.6,.2,1,1.8,2.6,3.4,4.2,5,5.8,6.6,7.4,8];
const logB30=[6.72,6.69,6.73,6.70,6.74,6.70,6.68,6.73,6.69,6.71,6.68,6.74,6.70,6.73,6.69,6.72];
const radB30=[20,30,15,25,80,20,30,15,140,20,35,90,20,25,15,30];
const tmpB31=[-3.8,-3,-2.2,-1.4,-.6,.2,1,1.8,2.6,3.4,4.2,5,5.8,6.6,7.4];
const logB31=[6.62,6.59,6.63,6.60,6.64,6.60,6.58,6.63,6.59,6.61,6.58,6.64,6.60,6.63,6.59];
const radB31=[15,25,70,20,30,15,120,25,20,40,15,100,25,20,30];
const tmpB32=[-4,-3.2,-2.4,-1.6,-.8,0,.8,1.6,2.4,3.2,4,4.8,5.6,6.4,7.2];
const logB32=[6.52,6.49,6.53,6.50,6.54,6.50,6.48,6.53,6.49,6.51,6.48,6.54,6.50,6.53,6.49];
const radB32=[20,15,30,25,60,20,30,130,15,25,20,90,30,20,25];
const tmpB33=[-4,-3.2,-2.4,-1.6,-.8,0,.8,1.6,2.4,3.2,4,4.8,5.6,6.4];
const logB33=[6.42,6.39,6.43,6.40,6.44,6.40,6.38,6.43,6.39,6.41,6.38,6.44,6.40,6.43];
const radB33=[25,30,15,100,20,35,15,25,110,20,30,15,60,20];
const tmpB34=[-4,-3.2,-2.4,-1.6,-.8,0,.8,1.6,2.4,3.2,4,4.8,5.6];
const logB34=[6.32,6.29,6.33,6.30,6.34,6.30,6.28,6.33,6.29,6.31,6.28,6.34,6.30];
const radB34=[20,15,80,25,20,30,120,15,25,20,40,20,25];
const tmpB35=[-3.6,-2.8,-2,-1.2,-.4,.4,1.2,2,2.8,3.6,4.4,5];
const logB35=[6.22,6.19,6.23,6.20,6.24,6.20,6.18,6.23,6.19,6.21,6.18,6.24];
const radB35=[15,25,20,30,90,15,25,20,40,15,20,25];
const tmpB36=[-3.6,-2.8,-2,-1.2,-.4,.4,1.2,2,2.8,3.6];
const logB36=[6.12,6.09,6.13,6.10,6.14,6.10,6.08,6.13,6.09,6.11];
const radB36=[20,30,15,70,25,20,100,15,25,20];
const tmpB37=[-3.4,-2.6,-1.8,-1,-.2,.6,1.4,2.2,3];
const logB37=[6.02,5.99,6.03,6.00,6.04,6.00,5.98,6.03,5.99];
const radB37=[25,15,20,30,20,120,25,15,20];
const tmpB38=[-3.4,-2.6,-1.8,-1,-.2,.6,1.4,2.2];
const logB38=[5.92,5.89,5.93,5.90,5.94,5.90,5.88,5.93];
const radB38=[15,30,25,20,15,25,90,20];
const tmpB39=[-3.2,-2.4,-1.6,-.8,0,.8,1.6];
const logB39=[5.82,5.79,5.83,5.80,5.84,5.80,5.78];
const radB39=[20,25,15,30,120,20,25];
const tmpB40=[-2.8,-2,-1.2,-.4,.4,1.2];
const logB40=[5.72,5.69,5.73,5.70,5.74,5.70];
const radB40=[25,15,20,100,15,120];
// second pass through the dense cloud, between the rows above
const tmpB41=[-3.6,-2.8,-2,-1.2,-.4,.4,1.2,2,2.8,3.6,4.4,5.2,6,6.8,7.6,8.4];
const logB41=[6.97,6.95,6.98,6.94,6.97,6.95,6.98,6.94,6.96,6.98,6.95,6.97,6.94,6.98,6.96,6.95];
const radB41=[20,15,30,90,20,25,120,15,30,20,150,25,15,100,20,30];
const tmpB42=[-4.4,-3.6,-2.8,-2,-1.2,-.4,.4,1.2,2,2.8,3.6,4.4,5.2,6,6.8,7.6,8.3];
const logB42=[6.87,6.85,6.88,6.84,6.86,6.88,6.85,6.87,6.84,6.88,6.86,6.85,6.87,6.84,6.88,6.86,6.85];
const radB42=[25,15,20,30,120,20,15,35,130,20,25,15,140,20,30,15,25];
const tmpB43=[-4.6,-3.4,-2.6,-1.8,-1,-.2,.6,1.4,2.2,3,3.8,4.6,5.4,6.2,7,7.8];
const logB43=[6.77,6.75,6.78,6.74,6.76,6.78,6.75,6.77,6.74,6.78,6.76,6.75,6.77,6.74,6.78,6.76];
const radB43=[15,20,30,25,15,110,20,30,15,90,25,20,160,30,15,20];
const tmpB44=[-5,-4.4,-3.4,-2.6,-1.8,-1,-.2,.6,1.4,2.2,3,3.8,4.6,5.4,6.2,7];
const logB44=[6.67,6.65,6.68,6.64,6.66,6.68,6.65,6.67,6.64,6.68,6.66,6.65,6.67,6.64,6.68,6.66];
const radB44=[20,30,15,25,130,20,30,15,25,100,20,140,15,25,30,15];
const tmpB45=[-5.2,-4.4,-3.4,-2.6,-1.8,-1,-.2,.6,1.4,2.2,3,3.8,4.6,5.4,6.2,7];
const logB45=[6.57,6.55,6.58,6.54,6.56,6.58,6.55,6.57,6.54,6.58,6.56,6.55,6.57,6.54,6.58,6.56];
const radB45=[15,25,20,30,15,25,100,20,30,15,120,25,20,15,90,30];
const tmpB46=[-6.6,-5.8,-5,-4.4,-3.6,-2.8,-2,-1.2,-.4,.4,1.2,2,2.8,3.6,4.4,5.2,6];
const logB46=[6.47,6.45,6.48,6.44,6.46,6.48,6.45,6.47,6.44,6.48,6.46,6.45,6.47,6.44,6.48,6.46,6.45];
const radB46=[25,15,20,30,15,90,25,20,30,15,25,130,20,15,30,25,20];
const tmpB47=[-7.6,-6.8,-6,-5.2,-4.4,-3.6,-2.8,-2,-1.2,-.4,.4,1.2,2,2.8,3.6,4.4,5.2,6];
const logB47=[6.37,6.35,6.38,6.34,6.36,6.38,6.35,6.37,6.34,6.38,6.36,6.35,6.37,6.34,6.38,6.36,6.35,6.37];
const radB47=[20,30,15,25,100,20,15,30,25,120,20,15,30,25,100,20,15,30];
const tmpB48=[-7.8,-7,-6.2,-5.4,-4.6,-3.8,-3,-2.2,-1.4,-.6,.2,1,1.8,2.6,3.4,4.2,5];
const logB48=[6.27,6.25,6.28,6.24,6.26,6.28,6.25,6.27,6.24,6.28,6.26,6.25,6.27,6.24,6.28,6.26,6.25];
const radB48=[15,25,20,30,15,25,90,20,30,15,25,20,110,30,15,20,25];
const tmpB49=[-7.6,-6.8,-6,-5.2,-4.2,-3.4,-2.6,-1.8,-1,-.2,.6,1.4,2.2,3,3.8,4.6];
const logB49=[6.17,6.15,6.18,6.14,6.16,6.18,6.15,6.17,6.14,6.18,6.16,6.15,6.17,6.14,6.18,6.16];
const radB49=[20,15,30,25,20,30,15,25,110,20,30,15,25,90,20,30];
const tmpB50=[-7.2,-6.4,-5.6,-4.2,-3.4,-2.6,-1.8,-1,-.2,.6,1.4,2.2,3,3.8];
const logB50=[6.07,6.05,6.08,6.04,6.06,6.08,6.05,6.07,6.04,6.08,6.06,6.05,6.07,6.04];
const radB50=[25,20,15,30,25,15,20,130,30,15,25,20,100,30];
const tmpB51=[-6.8,-5.8,-5,-4,-3,-2.2,-1.4,-.6,.2,1,1.8,2.6];
const logB51=[5.97,5.95,5.98,5.94,5.96,5.98,5.95,5.97,5.94,5.98,5.96,5.95];
const radB51=[20,30,15,25,20,15,30,25,110,20,15,30];
const tmpB52=[-5,-4,-3,-2.2,-1.4,-.6,.2,1,1.8,2.4];
const logB52=[5.87,5.85,5.88,5.84,5.86,5.88,5.85,5.87,5.84,5.88];
const radB52=[25,15,20,30,15,25,20,120,30,15];
const tmpB53=[-4.2,-3.2,-2.4,-1.6,-.8,0,.8,1.4];
const logB53=[5.77,5.75,5.78,5.74,5.76,5.78,5.75,5.77];
const radB53=[20,30,15,25,100,20,130,30];
const tmpB54=[-2.6,-1.8,-1,-.2,.4,.9];
const logB54=[5.66,5.64,5.67,5.63,5.65,5.62];
const radB54=[20,15,25,30,120,110];
const tmpB55=[-2.6,-1.8,-1,-.2,.6,1.4,2.2,3,3.8,4.6,5.4,6.2,7,7.8,8.6,9.4];
const logB55=[7.04,7.02,7.05,7.01,7.03,7.05,7.02,7.04,7.01,7.05,7.03,7.02,7.04,7.01,7.05,7.03];
const radB55=[20,30,15,25,100,20,140,30,15,25,170,20,30,15,110,60];
const tmpB56=[-2.6,-1.8,-1,-.2,.6,1.4,2.2,3,3.8,4.6,5.4,6.2,7,7.8,8.6,9.4];
const logB56=[7.12,7.10,7.13,7.09,7.11,7.13,7.10,7.12,7.09,7.13,7.11,7.10,7.12,7.09,7.13,7.11];
const radB56=[15,25,130,20,30,15,25,110,20,180,30,15,25,120,20,30];
const tmpB57=[-2.6,-1.8,-1,-.2,.6,1.4,2.2,3,3.8,4.6,5.4,6.2,7,7.8,8.6,9.4,10.2];
const logB57=[7.19,7.17,7.20,7.16,7.18,7.20,7.17,7.19,7.16,7.20,7.18,7.17,7.19,7.16,7.20,7.18,7.17];
const radB57=[20,15,30,25,20,150,15,30,25,20,100,30,15,200,20,25,120];
const tmpB58=[-2,-1.2,-.4,.4,1.2,2,2.8,3.6,4.4,5.2,6,6.8,7.6,8.4,9.2,10,10.8];
const logB58=[7.26,7.24,7.27,7.23,7.25,7.27,7.24,7.26,7.23,7.27,7.25,7.24,7.26,7.23,7.27,7.25,7.24];
const radB58=[25,20,15,30,130,20,25,15,170,30,20,25,110,15,30,200,25];
const tmpB59=[-1.6,-.8,0,.8,1.6,2.4,3.2,4,4.8,5.6,6.4,7.2,8,8.8,9.6,10.4,11.2];
const logB59=[7.33,7.31,7.34,7.30,7.32,7.34,7.31,7.33,7.30,7.34,7.32,7.31,7.33,7.30,7.34,7.32,7.31];
const radB59=[15,30,20,25,15,30,120,20,25,15,150,30,20,25,110,15,30];
const tmpB60=[-1,-.2,.6,1.4,2.2,3,3.8,4.6,5.4,6.2,7,7.8,8.6,9.4,10.2,11,11.8];
const logB60=[7.40,7.38,7.41,7.37,7.39,7.41,7.38,7.40,7.37,7.41,7.39,7.38,7.40,7.37,7.41,7.39,7.38];
const radB60=[20,25,15,30,20,100,15,25,30,20,15,130,25,20,30,15,120];
const tmpB61=[1.6,2.4,3.2,4,4.8,5.6,6.4,7.2,8,8.8,9.6,10.4,11.2,12];
const logB61=[7.47,7.45,7.48,7.44,7.46,7.48,7.45,7.47,7.44,7.48,7.46,7.45,7.47,7.44];
const radB61=[25,15,30,20,25,130,15,30,20,25,100,15,30,160];
const tmpB62=[3,3.8,4.6,5.4,6.2,7,7.8,8.6,9.4,10.2,11,11.8,12.6,13.4];
const logB62=[7.55,7.53,7.56,7.52,7.54,7.56,7.53,7.55,7.52,7.56,7.54,7.53,7.55,7.52];
const radB62=[15,20,30,25,15,110,20,30,25,15,20,140,30,100];
const tmpB63=[4,4.8,5.6,6.4,7.2,8,8.8,9.6,10.4,11.2,12,12.8,13.6,14.4];
const logB63=[7.69,7.67,7.62,7.68,7.63,7.66,7.62,7.68,7.64,7.69,7.63,7.67,7.62,7.66];
const radB63=[20,15,25,30,15,120,20,25,15,30,120,25,20,130];
const tmpB64=[6,6.8,7.6,8.4,9.2,10,10.8,11.6,12.4,13.2,14,14.8,15.6,16.4];
const logB64=[7.82,7.84,7.80,7.76,7.83,7.79,7.84,7.76,7.82,7.78,7.84,7.76,7.81,7.77];
const radB64=[20,30,15,25,20,30,120,15,25,100,20,30,230,100];
const tmpB65=[8.2,9,9.8,10.6,11.4,12.2,13,13.8,14.6,15.4,16.2,17,17.8,18.6,19.4,20.2,21,21.8,22.6];
const logB65=[7.98,8.01,8.05,8.00,7.94,8.03,7.99,8.05,7.96,8.02,8.07,7.97,8.04,8.00,8.06,7.96,8.03,7.98,8.05];
const radB65=[20,15,30,25,15,120,30,20,240,30,340,430,340,330,350,430,330,440,340];
const tmpB66=[11,11.8,12.6,13.4,14.2,15,15.8,16.6,17.4,18.2,19,19.8,20.6,21.4,22.2,23];
const logB66=[8.15,8.22,8.11,8.17,8.23,8.12,8.19,8.11,8.22,8.13,8.19,8.12,8.22,8.15,8.24,8.14];
const radB66=[20,15,25,30,20,60,15,30,20,25,15,30,20,60,120,90];

const seriesA=[[radA01,logA01,tmpA01],[radA23,logA23,tmpA23],[radA02,logA02,tmpA02],[radA24,logA24,tmpA24],[radA03,logA03,tmpA03],[radA25,logA25,tmpA25],[radA04,logA04,tmpA04],[radA26,logA26,tmpA26],[radA05,logA05,tmpA05],[radA27,logA27,tmpA27],[radA06,logA06,tmpA06],[radA28,logA28,tmpA28],[radA07,logA07,tmpA07],[radA29,logA29,tmpA29],[radA08,logA08,tmpA08],[radA30,logA30,tmpA30],[radA09,logA09,tmpA09],[radA31,logA31,tmpA31],[radA10,logA10,tmpA10],[radA32,logA32,tmpA32],[radA11,logA11,tmpA11],[radA33,logA33,tmpA33],[radA12,logA12,tmpA12],[radA34,logA34,tmpA34],[radA13,logA13,tmpA13],[radA35,logA35,tmpA35],[radA14,logA14,tmpA14],[radA36,logA36,tmpA36],[radA15,logA15,tmpA15],[radA37,logA37,tmpA37],[radA16,logA16,tmpA16],[radA38,logA38,tmpA38],[radA17,logA17,tmpA17],[radA39,logA39,tmpA39],[radA18,logA18,tmpA18],[radA19,logA19,tmpA19],[radA20,logA20,tmpA20],[radA21,logA21,tmpA21],[radA22,logA22,tmpA22]];
const seriesB=[[tmpB40,logB40,radB40],[tmpB54,logB54,radB54],[tmpB39,logB39,radB39],[tmpB53,logB53,radB53],[tmpB38,logB38,radB38],[tmpB52,logB52,radB52],[tmpB37,logB37,radB37],[tmpB51,logB51,radB51],[tmpB36,logB36,radB36],[tmpB50,logB50,radB50],[tmpB35,logB35,radB35],[tmpB49,logB49,radB49],[tmpB34,logB34,radB34],[tmpB48,logB48,radB48],[tmpB33,logB33,radB33],[tmpB47,logB47,radB47],[tmpB32,logB32,radB32],[tmpB46,logB46,radB46],[tmpB31,logB31,radB31],[tmpB45,logB45,radB45],[tmpB30,logB30,radB30],[tmpB44,logB44,radB44],[tmpB29,logB29,radB29],[tmpB43,logB43,radB43],[tmpB28,logB28,radB28],[tmpB42,logB42,radB42],[tmpB41,logB41,radB41],[tmpB01,logB01,radB01],[tmpB02,logB02,radB02],[tmpB03,logB03,radB03],[tmpB04,logB04,radB04],[tmpB05,logB05,radB05],[tmpB27,logB27,radB27],[tmpB06,logB06,radB06],[tmpB55,logB55,radB55],[tmpB07,logB07,radB07],[tmpB56,logB56,radB56],[tmpB08,logB08,radB08],[tmpB57,logB57,radB57],[tmpB09,logB09,radB09],[tmpB58,logB58,radB58],[tmpB10,logB10,radB10],[tmpB59,logB59,radB59],[tmpB11,logB11,radB11],[tmpB60,logB60,radB60],[tmpB12,logB12,radB12],[tmpB61,logB61,radB61],[tmpB13,logB13,radB13],[tmpB62,logB62,radB62],[tmpB14,logB14,radB14],[tmpB63,logB63,radB63],[tmpB15,logB15,radB15],[tmpB16,logB16,radB16],[tmpB64,logB64,radB64],[tmpB17,logB17,radB17],[tmpB18,logB18,radB18],[tmpB19,logB19,radB19],[tmpB65,logB65,radB65],[tmpB20,logB20,radB20],[tmpB21,logB21,radB21],[tmpB66,logB66,radB66],[tmpB22,logB22,radB22],[tmpB23,logB23,radB23],[tmpB24,logB24,radB24],[tmpB25,logB25,radB25],[tmpB26,logB26,radB26]];

// ---------- Scales ----------
const xA = v => 176 + (v - 0) * 0.72;
const yA = l => 738.5 - (l - 4) * 118.2;
const cbarXA = t => 327 + t * 19.72;
const xB = t => 1420 + t * 15.05;
const yB = l => 733.3 - (l - 5) * 169.3;
const cbarYB = w => 733.3 - w * 0.7518;
const TEMP_MIN = -11.24, TEMP_MAX = 28.9, RAD_MIN = 0, RAD_MAX = 900;
const LEVELS = 64;

function clamp01(v){ return Math.max(0, Math.min(1, v)); }
function jet(frac){
  const i = Math.max(0, Math.min(LEVELS - 1, Math.floor(frac * LEVELS)));
  const v = (i + 0.5) / LEVELS;
  const r = clamp01(1.5 - Math.abs(4 * v - 3));
  const g = clamp01(1.5 - Math.abs(4 * v - 2));
  const b = clamp01(1.5 - Math.abs(4 * v - 1));
  return 'rgb(' + Math.round(r * 255) + ',' + Math.round(g * 255) + ',' + Math.round(b * 255) + ')';
}
const NS = 'http://www.w3.org/2000/svg';
function mk(parent, tag, attrs, txt){
  const el = document.createElementNS(NS, tag);
  for (const k in attrs) el.setAttribute(k, attrs[k]);
  if (txt !== undefined) el.textContent = txt;
  parent.appendChild(el);
  return el;
}
const AXIS = '#3d3d3d';
const gA = document.getElementById('panelA');
const gB = document.getElementById('panelB');

// ---------- Panel (a) ----------
radiationTicksA.forEach(function(v){
  const grid = mk(gA, 'line', {x1:xA(v), x2:xA(v), y1:yA(9), y2:yA(4), stroke:'#333', 'stroke-width':1.4, 'stroke-dasharray':'1.6 4.2'});
  
  
  const tick = mk(gA, 'line', {x1:xA(v), x2:xA(v), y1:yA(4), y2:yA(4) - 8, stroke:AXIS, 'stroke-width':1.3});
  
  
  const label = mk(gA, 'text', {x:xA(v), y:766, 'font-size':25.5, 'text-anchor':'middle'}, String(v));
  
  
});
seriesA.forEach(function(s){
  s[0].forEach(function(v, i){
    if (s[1][i] === undefined || s[2][i] === undefined) return;
    const frac = (s[2][i] - TEMP_MIN) / (TEMP_MAX - TEMP_MIN);
    const pt = mk(gA, 'circle', {cx:xA(v), cy:yA(s[1][i]), r:8.9, fill:jet(frac)});
    
    
  });
});
const axisLineA = mk(gA, 'path', {d:'M106 ' + yA(9) + 'V' + yA(4) + 'H' + xA(1000), fill:'none', stroke:AXIS, 'stroke-width':1.4});


logHomTicksA.forEach(function(l){
  const tick = mk(gA, 'line', {x1:106, x2:113, y1:yA(l), y2:yA(l), stroke:AXIS, 'stroke-width':1.3});
  
  
  if (l < 9) for (let m = 2; m < 10; m++) {
    const minor = mk(gA, 'line', {x1:106, x2:110, y1:yA(l + Math.log10(m)), y2:yA(l + Math.log10(m)), stroke:AXIS, 'stroke-width':1.1});
    
    
  }
  const base = mk(gA, 'text', {x:61, y:yA(l) + 9, 'font-size':25.5}, '10');
  
  
  const exp = mk(gA, 'text', {x:91, y:yA(l) - 7, 'font-size':17.5}, String(l));
  
  
});
for (let i = 0; i < LEVELS; i++) {
  const t0 = TEMP_MIN + (TEMP_MAX - TEMP_MIN) * i / LEVELS;
  const t1 = TEMP_MIN + (TEMP_MAX - TEMP_MIN) * (i + 1) / LEVELS;
  const seg = mk(gA, 'rect', {x:cbarXA(t0), y:86, width:cbarXA(t1) - cbarXA(t0) + 0.6, height:36, fill:jet((i + 0.5) / LEVELS)});
  
  
}
const frameA = mk(gA, 'rect', {x:105, y:86, width:792, height:36, fill:'none', stroke:'#222', 'stroke-width':1.4});


temperatureTicksA.forEach(function(t){
  const top = mk(gA, 'line', {x1:cbarXA(t), x2:cbarXA(t), y1:86, y2:92, stroke:'#111', 'stroke-width':1.4});
  
  
  const bottom = mk(gA, 'line', {x1:cbarXA(t), x2:cbarXA(t), y1:116, y2:122, stroke:'#111', 'stroke-width':1.4});
  
  
  const label = mk(gA, 'text', {x:cbarXA(t), y:80, 'font-size':25.5, 'text-anchor':'middle'}, String(t));
  
  
});

// ---------- Panel (b) ----------
seriesB.forEach(function(s){
  s[0].forEach(function(t, i){
    if (s[1][i] === undefined || s[2][i] === undefined) return;
    const frac = (s[2][i] - RAD_MIN) / (RAD_MAX - RAD_MIN);
    const pt = mk(gB, 'circle', {cx:xB(t), cy:yB(s[1][i]), r:6.7, fill:jet(frac)});
    
    
  });
});
const axisLineB = mk(gB, 'path', {d:'M1120 ' + yB(9) + 'V' + yB(5) + 'H' + xB(30), fill:'none', stroke:'#555', 'stroke-width':1.4});


temperatureTicksB.forEach(function(t){
  const tick = mk(gB, 'line', {x1:xB(t), x2:xB(t), y1:yB(5), y2:yB(5) - 7, stroke:'#555', 'stroke-width':1.2});
  
  
  const label = mk(gB, 'text', {x:xB(t), y:775, 'font-size':28.6, 'text-anchor':'middle'}, String(t));
  
  
});
logHomTicksB.forEach(function(l){
  const tick = mk(gB, 'line', {x1:1120, x2:1127, y1:yB(l), y2:yB(l), stroke:'#555', 'stroke-width':1.2});
  
  
  if (l < 9) for (let m = 2; m < 10; m++) {
    const minor = mk(gB, 'line', {x1:1120, x2:1124, y1:yB(l + Math.log10(m)), y2:yB(l + Math.log10(m)), stroke:'#666', 'stroke-width':1});
    
    
  }
  const base = mk(gB, 'text', {x:1062, y:yB(l) + 16, 'font-size':28.6}, '10');
  
  
  const exp = mk(gB, 'text', {x:1095, y:yB(l) + 3, 'font-size':21}, String(l));
  
  
});
for (let i = 0; i < LEVELS; i++) {
  const w0 = RAD_MAX * i / LEVELS;
  const w1 = RAD_MAX * (i + 1) / LEVELS;
  const seg = mk(gB, 'rect', {x:1908, y:cbarYB(w1), width:36.3, height:cbarYB(w0) - cbarYB(w1) + 0.6, fill:jet((i + 0.5) / LEVELS)});
  
  
}
const frameB = mk(gB, 'rect', {x:1908, y:56.7, width:36.3, height:676.6, fill:'none', stroke:'#555', 'stroke-width':1.3});


radiationTicksB.forEach(function(w){
  const tick = mk(gB, 'line', {x1:1938.5, x2:1944.3, y1:cbarYB(w), y2:cbarYB(w), stroke:'#333', 'stroke-width':1.1});
  
  
  const label = mk(gB, 'text', {x:1954.5, y:cbarYB(w) + 10.7, 'font-size':28.6}, String(w));
  
  
});
</script>
</body>
</html>
